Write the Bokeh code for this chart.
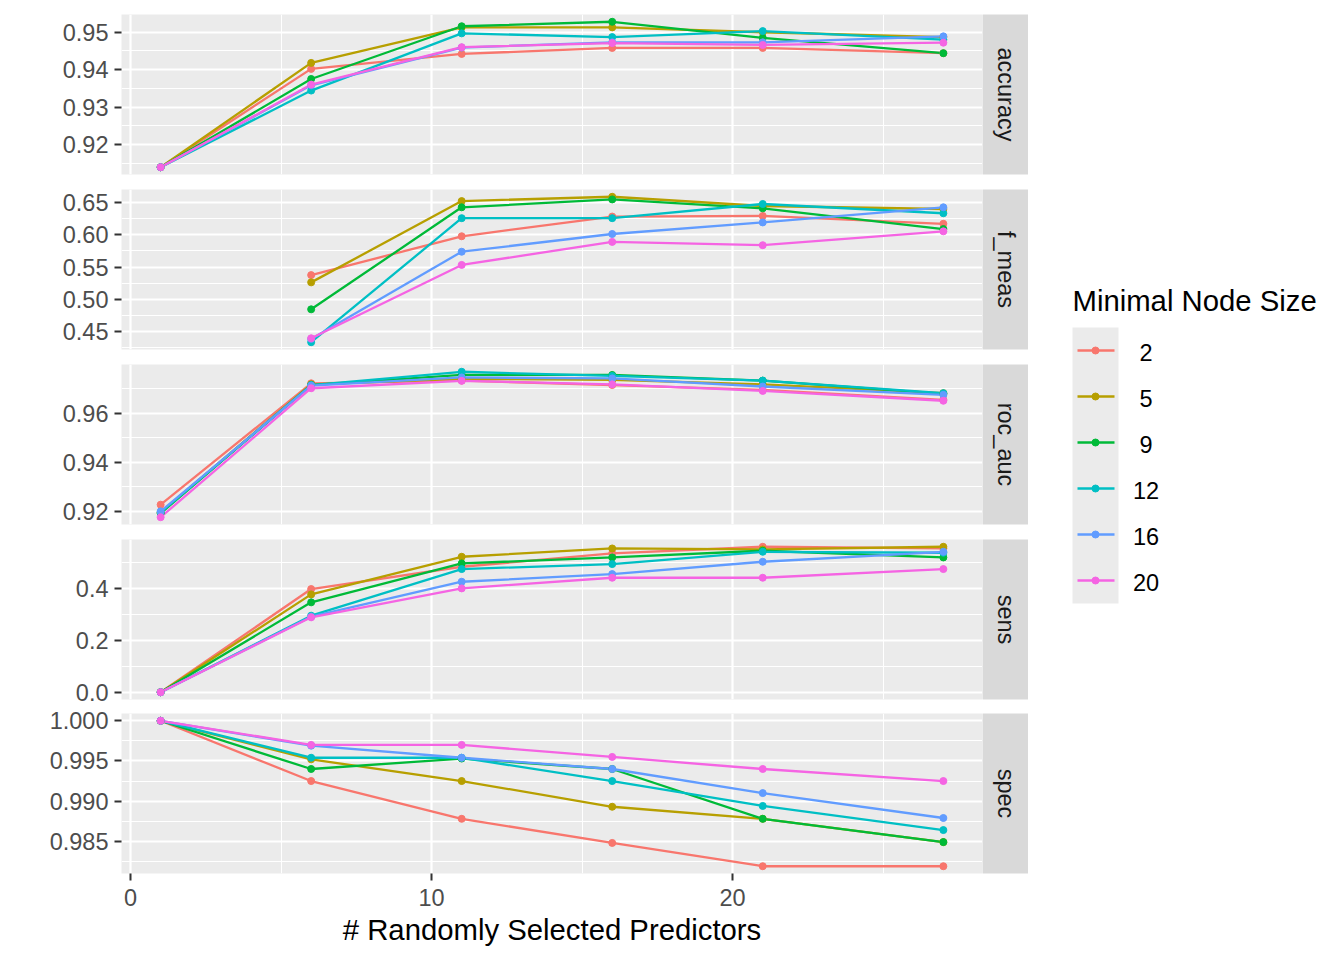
import numpy as np
from bokeh.plotting import figure
from bokeh.models import Range1d, FixedTicker, PrintfTickFormatter, ColumnDataSource
from bokeh.layouts import row, column
from bokeh.embed import file_html
from bokeh.resources import INLINE
from bokeh.core.properties import value

# ---------------- data ----------------
x_mtry = [1, 6, 11, 16, 21, 27]
node_sizes = ["2", "5", "9", "12", "16", "20"]
colors = ["#F8766D", "#B79F00", "#00BA38", "#00BFC4", "#619CFF", "#F564E3"]
metric_names = ["accuracy", "f_meas", "roc_auc", "sens", "spec"]
nan = float("nan")

accuracy = [
    [0.9139, 0.9402, 0.9442, 0.9458, 0.9458, 0.9444],
    [0.9139, 0.9418, 0.9513, 0.9513, 0.9500, 0.9487],
    [0.9139, 0.9375, 0.9516, 0.9528, 0.9485, 0.9444],
    [0.9139, 0.9344, 0.9497, 0.9487, 0.9503, 0.9480],
    [0.9139, 0.9358, 0.9459, 0.9473, 0.9473, 0.9489],
    [0.9139, 0.9360, 0.9460, 0.9471, 0.9466, 0.9472],
]
f_meas = [
    [nan, 0.5375, 0.5976, 0.6281, 0.6291, 0.6169],
    [nan, 0.5263, 0.6520, 0.6587, 0.6444, 0.6398],
    [nan, 0.4846, 0.6424, 0.6546, 0.6408, 0.6088],
    [nan, 0.4337, 0.6256, 0.6256, 0.6475, 0.6332],
    [nan, 0.4388, 0.5737, 0.6011, 0.6190, 0.6424],
    [nan, 0.4398, 0.5533, 0.5889, 0.5838, 0.6052],
]
roc_auc = [
    [0.9227, 0.9721, 0.9732, 0.9714, 0.9694, 0.9654],
    [0.9195, 0.9717, 0.9739, 0.9735, 0.9717, 0.9681],
    [0.9192, 0.9714, 0.9755, 0.9755, 0.9732, 0.9678],
    [0.9196, 0.9714, 0.9768, 0.9751, 0.9732, 0.9681],
    [0.9200, 0.9712, 0.9745, 0.9741, 0.9708, 0.9674],
    [0.9176, 0.9701, 0.9731, 0.9717, 0.9690, 0.9650],
]
sens = [
    [0.0, 0.3974, 0.4833, 0.5346, 0.5603, 0.5538],
    [0.0, 0.3769, 0.5218, 0.5538, 0.5500, 0.5603],
    [0.0, 0.3462, 0.4962, 0.5192, 0.5449, 0.5192],
    [0.0, 0.2949, 0.4744, 0.4936, 0.5410, 0.5372],
    [0.0, 0.2910, 0.4256, 0.4551, 0.5026, 0.5410],
    [0.0, 0.2885, 0.4000, 0.4410, 0.4410, 0.4744],
]
spec = [
    [1.0, 0.9925, 0.9878, 0.9848, 0.9819, 0.9819],
    [1.0, 0.9952, 0.9925, 0.9893, 0.9878, 0.9849],
    [1.0, 0.9940, 0.9953, 0.9940, 0.9878, 0.9849],
    [1.0, 0.9954, 0.9954, 0.9925, 0.9894, 0.9864],
    [1.0, 0.9969, 0.9954, 0.9940, 0.9910, 0.9879],
    [1.0, 0.9970, 0.9970, 0.9955, 0.9940, 0.9925],
]

x_ticks = [0, 10, 20]
x_minor_ticks = [5, 15, 25]
accuracy_ticks = [0.92, 0.93, 0.94, 0.95]
f_meas_ticks = [0.45, 0.50, 0.55, 0.60, 0.65]
roc_auc_ticks = [0.92, 0.94, 0.96]
sens_ticks = [0.0, 0.2, 0.4]
spec_ticks = [0.985, 0.990, 0.995, 1.000]
tick_formats = ["%.2f", "%.2f", "%.2f", "%.1f", "%.3f"]

x_title = "# Randomly Selected Predictors"
legend_title = "Minimal Node Size"

# ---------------- styling ----------------
FONT = "Liberation Sans"
SMALL = "23.5px"
LARGE = "29.3px"
PANEL_W, PANEL_H = 861, 160
STRIP_W = 46
LEFT = 121
tops = [14, 7, 7, 8, 7]
bottoms = [8, 8, 7, 7, 79]

all_data = [accuracy, f_meas, roc_auc, sens, spec]
all_ticks = [accuracy_ticks, f_meas_ticks, roc_auc_ticks, sens_ticks, spec_ticks]

xlo, xhi = min(x_mtry), max(x_mtry)
xpad = 0.05 * (xhi - xlo)

rows = []
for i, (name, data, ticks, fmt) in enumerate(zip(metric_names, all_data, all_ticks, tick_formats)):
    last = i == len(metric_names) - 1
    arr = np.array(data, dtype=float)
    lo, hi = np.nanmin(arr), np.nanmax(arr)
    pad = 0.05 * (hi - lo)
    step = ticks[1] - ticks[0]
    minor = [t - step / 2 for t in ticks] + [ticks[-1] + step / 2]

    p = figure(frame_width=PANEL_W, frame_height=PANEL_H,
               x_range=Range1d(xlo - xpad, xhi + xpad),
               y_range=Range1d(lo - pad, hi + pad),
               output_backend="svg", toolbar_location=None,
               x_axis_location="below" if last else None,
               min_border_left=LEFT, min_border_right=0,
               min_border_top=tops[i], min_border_bottom=bottoms[i])
    p.background_fill_color = "#EBEBEB"
    p.border_fill_color = "white"
    p.outline_line_color = None

    p.xgrid.ticker = FixedTicker(ticks=x_ticks, minor_ticks=x_minor_ticks)
    p.ygrid.ticker = FixedTicker(ticks=ticks, minor_ticks=minor)
    for g in (p.xgrid, p.ygrid):
        g.grid_line_color = "white"
        g.grid_line_width = 2.2
        g.minor_grid_line_color = "white"
        g.minor_grid_line_width = 1.1

    axes = [p.yaxis[0]] + ([p.xaxis[0]] if last else [])
    for ax in axes:
        ax.axis_line_color = None
        ax.major_tick_line_color = "#333333"
        ax.major_tick_line_width = 2
        ax.major_tick_out = 7
        ax.major_tick_in = 0
        ax.minor_tick_line_color = None
        ax.major_label_text_font = FONT
        ax.major_label_text_font_size = SMALL
        ax.major_label_text_color = "#4D4D4D"
    p.yaxis.ticker = FixedTicker(ticks=ticks)
    p.yaxis.formatter = PrintfTickFormatter(format=fmt)
    p.yaxis.major_label_standoff = 6
    if last:
        p.xaxis.ticker = FixedTicker(ticks=x_ticks)
        p.xaxis.major_label_standoff = 8
        p.xaxis.axis_label = x_title
        p.xaxis.axis_label_text_font = FONT
        p.xaxis.axis_label_text_font_size = LARGE
        p.xaxis.axis_label_text_font_style = "normal"
        p.xaxis.axis_label_text_color = "black"
        p.xaxis.axis_label_standoff = 4

    sources = [ColumnDataSource(dict(x=x_mtry, y=np.array(series, dtype=float))) for series in data]
    for src, c in zip(sources, colors):
        p.line("x", "y", source=src, line_color=c, line_width=2.3)
    for src, c in zip(sources, colors):
        p.scatter("x", "y", source=src, size=7, fill_color=c, line_color=c, marker="circle")

    s = figure(frame_width=STRIP_W, frame_height=PANEL_H,
               x_range=Range1d(0, 1), y_range=Range1d(0, 1),
               output_backend="svg", toolbar_location=None,
               x_axis_location=None, y_axis_location=None,
               min_border_left=0, min_border_right=0,
               min_border_top=tops[i], min_border_bottom=bottoms[i])
    s.background_fill_color = "#D9D9D9"
    s.border_fill_color = "white"
    s.outline_line_color = None
    s.xgrid.visible = False
    s.ygrid.visible = False
    s.text(x=[0.5], y=[0.5], text=[name], angle=-np.pi / 2,
           text_align="center", text_baseline="middle",
           text_font=value(FONT), text_font_size=SMALL, text_color="#1A1A1A")
    rows.append(row(p, s))

# ---------------- legend ----------------
LW, LH = 300, 952
lg = figure(frame_width=LW, frame_height=LH, x_range=Range1d(0, LW), y_range=Range1d(LH, 0),
            output_backend="svg", toolbar_location=None,
            x_axis_location=None, y_axis_location=None,
            min_border_left=0, min_border_right=0, min_border_top=0, min_border_bottom=0)
lg.outline_line_color = None
lg.background_fill_color = "white"
lg.border_fill_color = "white"
lg.xgrid.visible = False
lg.ygrid.visible = False

key_x0, key_x1 = 44, 90
key_top, key_h = 327, 46
n = len(node_sizes)
lg.quad(left=[key_x0], right=[key_x1], top=[key_top], bottom=[key_top + key_h * n],
        fill_color="#EBEBEB", line_color=None)
lg.text(x=[44], y=[300], text=[legend_title], text_align="left", text_baseline="middle",
        text_font=value(FONT), text_font_size=LARGE, text_color="black")
key_y = [key_top + key_h * (k + 0.5) for k in range(n)]
for k in range(n):
    lg.line([key_x0 + 5, key_x1 - 4], [key_y[k], key_y[k]], line_color=colors[k], line_width=2.3)
    lg.scatter([(key_x0 + key_x1) / 2], [key_y[k]], size=7, fill_color=colors[k],
               line_color=colors[k], marker="circle")
lg.text(x=[117.5] * n, y=[y + 1.5 for y in key_y], text=node_sizes, text_align="center",
        text_baseline="middle", text_font=value(FONT), text_font_size=SMALL, text_color="black")

layout = row(column(*rows), lg)

with open("out.html", "w") as f:
    f.write(file_html(layout, INLINE))
